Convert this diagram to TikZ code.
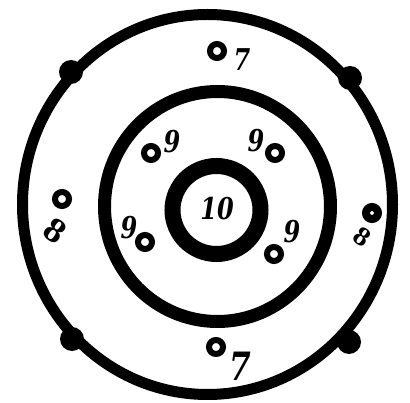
\documentclass[tikz,border=0pt]{standalone}
\usepackage{fontspec}
\newfontfamily\numfont{DejaVu Serif}
\usepackage{tikz}
\usetikzlibrary{positioning}

\begin{document}
\begin{tikzpicture}[x=1pt,y=-1pt,
  hole/.style={circle,draw=black,line width=6pt,minimum size=14pt,inner sep=0pt},
  num/.style={font=\numfont\fontsize{30}{30}\selectfont\bfseries\itshape,inner sep=0pt,xscale=0.8}]
\useasboundingbox (0,0) rectangle (410,403);
% rings
\draw[line width=11pt] (207.5,204.5) ellipse [x radius=185, y radius=190];
\draw[line width=13pt] (217.5,206.5) ellipse [x radius=113, y radius=115];
\draw[line width=16pt] (216.5,210) circle (44);
% blobs on the outer ring
\fill (71,72) circle (12);
\fill (350,78) circle (12);
\fill (72,339) circle (12);
\fill (349,342) circle (12);

\node[num] (ten) at (217,209) {10};

\node[hole] (htop) at (217,51) {};
\node[num] (ntop) at (242,60) {7};
\node[hole] (hbot) at (216,347) {};
\node[num,scale=1.3] (nbot) at (240,366) {7};
\node[hole] (hleft) at (62,199) {};
\node[num,rotate=-30,scale=1.1] (nleft) at (55,231) {8};
\node[hole,line width=8pt,minimum size=12pt] (hright) at (372,213) {};
\node[num,rotate=-30,scale=0.85] (nright) at (362,237) {8};

\node[hole] (hul) at (151,153) {};
\node[num] (nul) at (172,142) {9};
\node[num] (nur) at (256,141) {9};
\node[hole] (hur) at (275,153) {};
\node[num] (nll) at (129,228) {9};
\node[hole] (hll) at (145,242) {};
\node[hole] (hlr) at (274,254) {};
\node[num] (nlr) at (292,232) {9};

\end{tikzpicture}
\end{document}
